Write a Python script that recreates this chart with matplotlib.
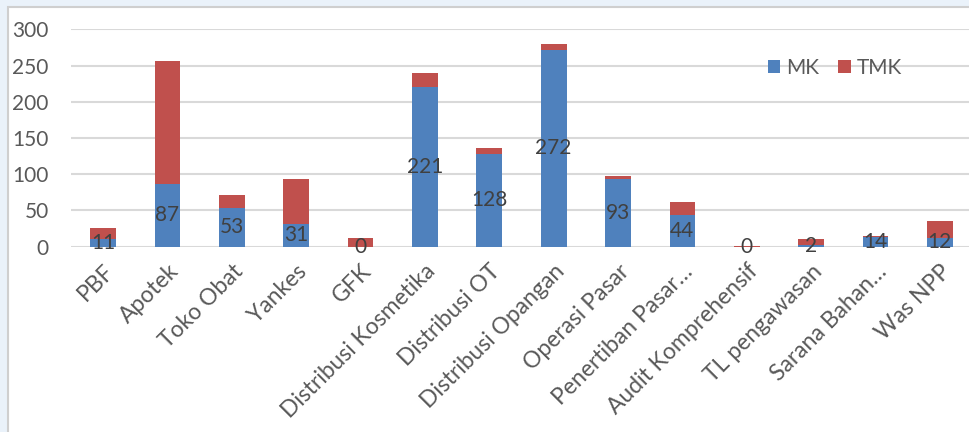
import numpy as np
import matplotlib
matplotlib.use("Agg")
import matplotlib.pyplot as plt
from matplotlib.patches import Rectangle

# ----- data -----
categories = ["PBF", "Apotek", "Toko Obat", "Yankes", "GFK",
              "Distribusi Kosmetika", "Distribusi OT", "Distribusi Opangan",
              "Operasi Pasar", "Penertiban Pasar\u2026", "Audit Komprehensif",
              "TL pengawasan", "Sarana Bahan\u2026", "Was NPP"]
mk = [11, 87, 53, 31, 0, 221, 128, 272, 93, 44, 0, 2, 14, 12]
tmk = [15, 169, 19, 63, 12, 19, 8, 8, 5, 17, 1, 8, 1, 23]
yticks = [0, 50, 100, 150, 200, 250, 300]

BLUE = "#4F81BD"
RED = "#C0504D"
plt.rcParams["font.family"] = ["Lato", "DejaVu Sans"]

W, H = 969, 432
fig = plt.figure(figsize=(W / 100, H / 100), dpi=100)
fig.patch.set_facecolor("#EAF2FA")

# white chart frame
fig.patches.append(Rectangle((7.5 / W, -0.1), 1.2, 1.1 - 7.5 / H,
                             transform=fig.transFigure, facecolor="white",
                             edgecolor="#CFCFCF", linewidth=1.5, zorder=-10))

ax = fig.add_axes([71 / W, 1 - 246.7 / H, (972 - 71) / W, (246.7 - 29.3) / H])
ax.set_facecolor("none")

x = np.arange(len(categories))
ax.bar(x, mk, width=0.4, color=BLUE, label="MK", zorder=3)
ax.bar(x, tmk, width=0.4, bottom=mk, color=RED, label="TMK", zorder=3)

for xi, v in zip(x, mk):
    ax.text(xi, v / 2, str(v), ha="center", va="center", fontsize=15,
            color="#404040", zorder=4)

ax.set_xlim(-0.5, len(categories) - 0.5)
ax.set_ylim(0, 300)
ax.set_yticks(yticks)
ax.yaxis.grid(True, color="#D9D9D9", linewidth=1.5, zorder=0)
ax.set_axisbelow(True)
for s in ax.spines.values():
    s.set_visible(False)
ax.tick_params(axis="y", length=0, pad=16, labelsize=15, labelcolor="#595959")
ax.tick_params(axis="x", length=0, pad=10)
ax.set_xticks(x)
ax.set_xticklabels(categories, rotation=45, ha="right", va="top",
                   rotation_mode="anchor", fontsize=16.5, color="#595959")

ax.legend(loc="center left", bbox_to_anchor=(749 / W, 1 - 68 / H),
          bbox_transform=fig.transFigure, ncol=2, frameon=False,
          fontsize=15, labelcolor="#595959", handlelength=0.6,
          handleheight=0.6, handletextpad=0.3, columnspacing=0.9)

fig.savefig("out.png", dpi=100, facecolor=fig.get_facecolor())
